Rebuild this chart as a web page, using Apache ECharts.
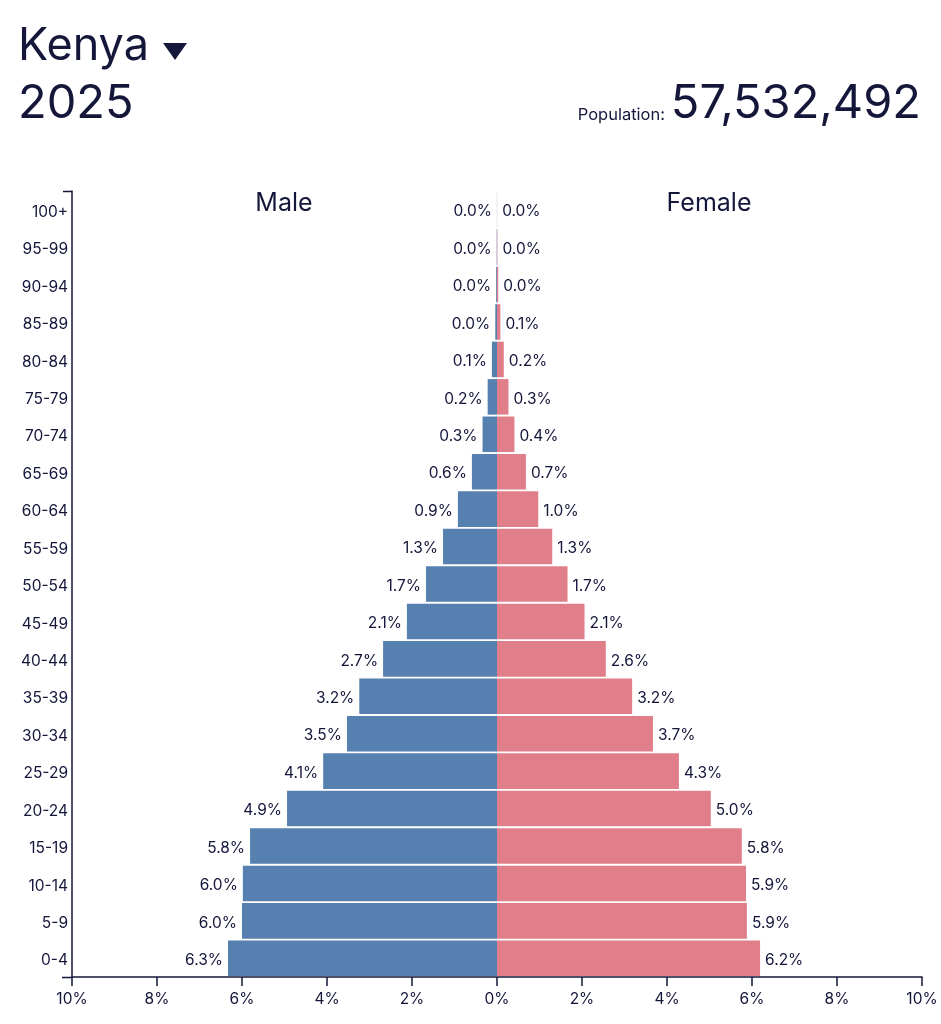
<!DOCTYPE html>
<html>
<head>
<meta charset="utf-8">
<style>
  html, body { margin: 0; padding: 0; background: #fff; }
  #main { width: 941px; height: 1024px; }
</style>
</head>
<body>
<div id="main"></div>
<script src="https://cdn.jsdelivr.net/npm/echarts@6/dist/echarts.min.js"></script>
<script>
const ageGroups = ['0-4', '5-9', '10-14', '15-19', '20-24', '25-29', '30-34', '35-39', '40-44', '45-49', '50-54',
    '55-59', '60-64', '65-69', '70-74', '75-79', '80-84', '85-89', '90-94', '95-99', '100+']
// percent of population
const malePct = [6.33, 6.0, 5.98, 5.81, 4.94, 4.09, 3.53, 3.24, 2.68, 2.12, 1.67,
    1.27, 0.92, 0.59, 0.34, 0.22, 0.12, 0.04, 0.02, 0.008, 0.002]
const femalePct = [6.19, 5.88, 5.86, 5.76, 5.03, 4.28, 3.67, 3.18, 2.56, 2.06, 1.66,
    1.3, 0.97, 0.68, 0.41, 0.27, 0.16, 0.08, 0.03, 0.01, 0.003]
const xRange = [-10, 10]

const ink = '#14163a'
const font = 'Inter, "Liberation Sans", sans-serif'
const labelSize = 15.5

function pctLabel(v) {
    return Math.abs(v).toFixed(1) + '%'
}

function headText(text, x, y, size, align) {
    return {
        type: 'text', x: x, y: y,
        style: { text: text, fill: ink, font: size + 'px ' + font, textAlign: align || 'left', textVerticalAlign: 'middle' }
    }
}

var chart = echarts.init(document.getElementById('main'), null, { renderer: 'canvas' })
chart.setOption({
    animation: false,
    backgroundColor: '#fff',
    textStyle: { fontFamily: font },
    grid: { left: 72, right: 19, top: 191, bottom: 47, containLabel: false },
    xAxis: {
        type: 'value',
        min: xRange[0],
        max: xRange[1],
        interval: 2,
        splitLine: { show: false },
        axisLine: { show: true, onZero: false, lineStyle: { color: ink, width: 1.5 } },
        axisTick: { show: true, length: 9, lineStyle: { color: ink, width: 1.5 } },
        axisLabel: { color: ink, fontSize: labelSize, margin: 14, fontFamily: font, formatter: function (v) { return Math.abs(v) + '%' }, hideOverlap: false }
    },
    yAxis: {
        type: 'category',
        data: ageGroups,
        axisLine: { show: true, onZero: false, lineStyle: { color: ink, width: 1.5 } },
        axisTick: { show: false },
        axisLabel: {
            color: ink, fontSize: labelSize, margin: 4, fontFamily: font, interval: 0,
            formatter: '{age|{value}}',
            rich: { age: { color: ink, fontSize: labelSize, fontFamily: font, padding: [5, 0, 0, 0] } }
        }
    },
    series: [
        {
            name: 'Male', type: 'bar', stack: 'pop', barCategoryGap: '5%',
            data: malePct.map(function (v) { return -v }),
            itemStyle: { color: '#5580b0' },
            label: { show: true, position: 'left', distance: 5, offset: [0, 2], color: ink, fontSize: labelSize, fontFamily: font, formatter: function (p) { return pctLabel(p.value) } }
        },
        {
            name: 'Female', type: 'bar', stack: 'pop', barCategoryGap: '5%',
            data: femalePct,
            itemStyle: { color: '#e07f8a' },
            label: { show: true, position: 'right', distance: 5, offset: [0, 2], color: ink, fontSize: labelSize, fontFamily: font, formatter: function (p) { return pctLabel(p.value) } }
        }
    ],
    graphic: [
        headText('Kenya', 18, 46, 45),
        { type: 'polygon', shape: { points: [[163, 43], [187, 43], [175, 60]] }, style: { fill: ink } },
        headText('2025', 18, 104, 47),
        headText('Population:', 665, 115, 16.5, 'right'),
        headText('57,532,492', 921, 104, 47, 'right'),
        headText('Male', 284, 203, 25, 'center'),
        headText('Female', 709, 203, 25, 'center'),
        // end ticks of the age axis
        { type: 'line', shape: { x1: 63, y1: 191.5, x2: 72, y2: 191.5 }, style: { stroke: ink, lineWidth: 1.5 } },
        { type: 'line', shape: { x1: 62, y1: 977.5, x2: 72, y2: 977.5 }, style: { stroke: ink, lineWidth: 1.5 } }
    ]
})
</script>
</body>
</html>
